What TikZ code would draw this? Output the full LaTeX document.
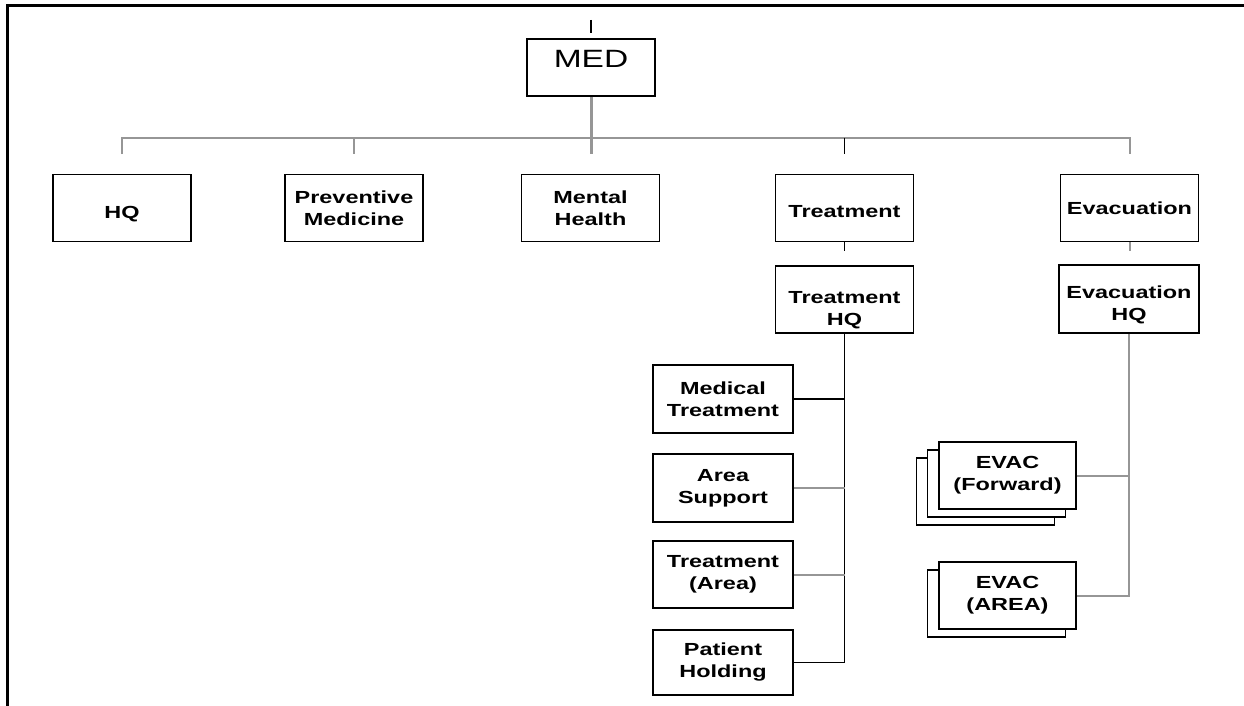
\documentclass[tikz,border=0pt]{standalone}
\usepackage{fontspec}
\setmainfont{Liberation Sans}
\newfontfamily\orgfont[FakeStretch=1.34]{Liberation Sans}
\begin{document}
\begin{tikzpicture}[x=1pt,y=-1pt]
\definecolor{linegray}{RGB}{150,150,150}
\tikzset{
  unit/.style={draw=black, line width=1.6pt, fill=white, inner sep=0pt,
    align=center, font=\orgfont\bfseries\fontsize{17.5}{22}\selectfont},
  wide/.style={minimum width=138pt, minimum height=67pt},
  blackline/.style={draw=black, line width=1.5pt},
  grayline/.style={draw=linegray, line width=2pt},
  trunkline/.style={draw=linegray, line width=3pt},
}
% a taller first line pushes a label a little lower in its box
\newcommand{\lowerby}[1]{\rule{0pt}{#1}}
\useasboundingbox (0,0) rectangle (1244,706);
% page frame
\draw[line width=3.5pt, line cap=rect] (7.5,706) -- (7.5,5.5) -- (1243,5.5);

% top level
\node[unit, minimum width=128pt, minimum height=57pt,
  font=\orgfont\fontsize{25}{28}\selectfont, text height=18pt, text depth=18pt]
  (med) at (591,67.5) {MED};
\coordinate (medtick) at (591,20);
\coordinate (medtickend) at (591,33.5);
\draw[blackline] (medtick) -- (medtickend);

% second level
\node[unit, wide] (hq)   at (122,208)    {\lowerby{24pt}HQ};
\node[unit, wide] (prev) at (354,208)    {Preventive\\Medicine};
\node[unit, wide] (ment) at (590.5,208)  {Mental\\Health};
\node[unit, wide] (trt)  at (844.5,208)  {\lowerby{19pt}Treatment};
\node[unit, wide] (evc)  at (1129.5,208) {Evacuation};

% branch bar
\coordinate (bar) at (0,137.5);
\coordinate (dropend) at (0,154);
\draw[trunkline] (med.south) -- (med.south |- dropend);
\draw[grayline] (hq.north |- dropend) -- (hq.north |- bar) -- (evc.north |- bar) -- (evc.north |- dropend);
\draw[grayline] (prev.north |- bar) -- (prev.north |- dropend);
\draw[blackline] (trt.north |- bar) -- (trt.north |- dropend);

% treatment branch
\node[unit, wide] (trthq) at (844.5,299.5) {\lowerby{33pt}Treatment\\HQ};
\draw[blackline] (trt.south) -- ++(0,9);
\node[unit, wide, minimum width=140pt, minimum height=68pt] (medt) at (723,399)   {Medical\\Treatment};
\node[unit, wide, minimum width=140pt, minimum height=68pt] (area) at (723,488)   {Area\\Support};
\node[unit, wide, minimum width=140pt, minimum height=67pt] (trta) at (723,574.5) {Treatment\\(Area)};
\node[unit, wide, minimum width=140pt, minimum height=65pt] (pat)  at (723,662.5) {Patient\\Holding};
\draw[blackline] (trthq.south) -- (trthq.south |- pat.east) -- (pat.east);
\draw[blackline] (medt.east) -- (medt.east -| trthq.south);
\draw[grayline] (area.east) -- (area.east -| trthq.south);
\draw[grayline] (trta.east) -- (trta.east -| trthq.south);

% evacuation branch
\node[unit, wide, minimum width=140pt, minimum height=68pt] (evchq) at (1129,299) {\lowerby{25pt}Evacuation\\HQ};
\draw[grayline] (evc.south) -- ++(0,9);
\node[unit, wide] (fwdc) at (985.5,491.5) {};
\node[unit, wide] (fwdb) at (996.5,483.5) {};
\node[unit, wide, minimum width=137pt] (fwd) at (1007.5,475.5) {EVAC\\(Forward)};
\node[unit, wide] (areab) at (996.5,603.5) {};
\node[unit, wide, minimum width=137pt] (evarea) at (1007.5,595.5) {EVAC\\(AREA)};
\draw[grayline] (evchq.south) -- (evchq.south |- evarea.east) -- (evarea.east);
\draw[grayline] (fwd.east) -- (fwd.east -| evchq.south);
\end{tikzpicture}
\end{document}
